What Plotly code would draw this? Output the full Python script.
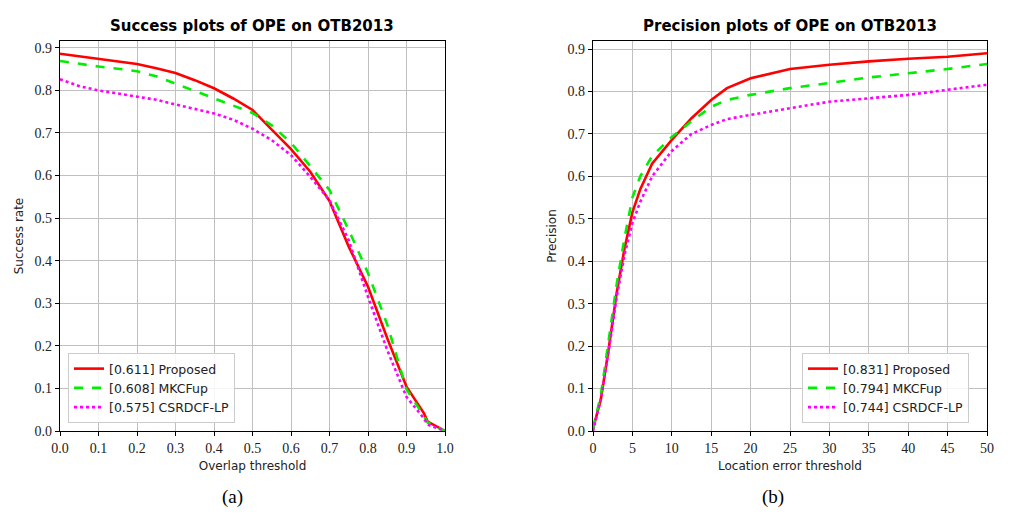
import plotly.graph_objects as go

# ---- Success plot data (overlap threshold) ----
succ_x = [0.0, 0.05, 0.1, 0.15, 0.2, 0.25, 0.3, 0.35, 0.4, 0.45, 0.5, 0.55, 0.6, 0.65,
          0.7, 0.75, 0.8, 0.85, 0.9, 0.945, 0.955, 1.0]
succ_proposed = [0.886, 0.880, 0.874, 0.868, 0.862, 0.852, 0.841, 0.824, 0.805, 0.781, 0.754,
                 0.708, 0.662, 0.609, 0.540, 0.433, 0.339, 0.218, 0.104, 0.042, 0.022, 0.0]
succ_mkcfup = [0.869, 0.862, 0.856, 0.851, 0.845, 0.833, 0.816, 0.799, 0.781, 0.765, 0.747,
               0.718, 0.677, 0.622, 0.566, 0.472, 0.371, 0.250, 0.098, 0.035, 0.020, 0.0]
succ_csrdcf = [0.826, 0.810, 0.800, 0.793, 0.786, 0.778, 0.767, 0.757, 0.746, 0.731, 0.710,
               0.683, 0.648, 0.597, 0.542, 0.448, 0.315, 0.190, 0.080, 0.030, 0.015, 0.0]

# ---- Precision plot data (location error threshold) ----
prec_x = [0, 1, 2, 3, 4, 5, 6, 7.5, 10, 12.5, 15, 17, 20, 25, 30, 35, 40, 45, 50]
prec_proposed = [0.005, 0.075, 0.195, 0.325, 0.430, 0.515, 0.570, 0.630, 0.686, 0.737, 0.780,
                 0.808, 0.831, 0.853, 0.863, 0.871, 0.877, 0.882, 0.890]
prec_mkcfup = [0.005, 0.085, 0.215, 0.345, 0.455, 0.550, 0.600, 0.648, 0.693, 0.730, 0.764,
               0.780, 0.792, 0.808, 0.820, 0.833, 0.843, 0.853, 0.865]
prec_csrdcf = [0.0, 0.075, 0.190, 0.315, 0.415, 0.490, 0.540, 0.600, 0.660, 0.700, 0.721,
               0.735, 0.745, 0.760, 0.776, 0.784, 0.792, 0.804, 0.816]

names_succ = ["[0.611] Proposed", "[0.608] MKCFup", "[0.575] CSRDCF-LP"]
names_prec = ["[0.831] Proposed", "[0.794] MKCFup", "[0.744] CSRDCF-LP"]
colors = ["#ff0000", "#00ee00", "#ff00ff"]
dashes = ["solid", "dash", "dot"]

succ_x_ticks = [round(i * 0.1, 1) for i in range(11)]
prec_x_ticks = list(range(0, 51, 5))
y_ticks = [round(i * 0.1, 1) for i in range(10)]

fig = go.Figure()
for ys, nm, c, d in zip([succ_proposed, succ_mkcfup, succ_csrdcf], names_succ, colors, dashes):
    fig.add_trace(go.Scatter(x=succ_x, y=ys, name=nm, mode="lines",
                             line=dict(color=c, dash=d, width=2.6),
                             xaxis="x", yaxis="y", legend="legend"))
for ys, nm, c, d in zip([prec_proposed, prec_mkcfup, prec_csrdcf], names_prec, colors, dashes):
    fig.add_trace(go.Scatter(x=prec_x, y=ys, name=nm, mode="lines",
                             line=dict(color=c, dash=d, width=2.6),
                             xaxis="x2", yaxis="y2", legend="legend2"))

OFF = 8  # page body margin
W, H = 1012 - OFF, 523 - OFF


def px(x):
    return (x - OFF) / W


def py(y):
    return 1 - (y - OFF) / H


yd = [py(431), py(41)]
serif = "Liberation Serif, DejaVu Serif, serif"
sans = "DejaVu Sans, Liberation Sans, sans-serif"
grid = "#c0c0c0"

axis_common = dict(showline=True, linecolor="black", linewidth=1.2, mirror=True,
                   ticks="outside", ticklen=4, tickcolor="black", automargin=False,
                   showgrid=True, gridcolor=grid, gridwidth=1, zeroline=False,
                   tickfont=dict(family=serif, size=14, color="#222"))

leg_common = dict(xanchor="left", yanchor="bottom",
                  bgcolor="rgba(255,255,255,0.85)", bordercolor="#cccccc", borderwidth=1,
                  font=dict(family=sans, size=12.5, color="#222"), tracegroupgap=0)

fig.update_layout(
    width=W, height=H, margin=dict(l=0, r=0, t=0, b=0, autoexpand=False),
    paper_bgcolor="white", plot_bgcolor="white",
    showlegend=True,
    xaxis=dict(domain=[px(60), px(445)], range=[0, 1], tickvals=succ_x_ticks,
               tickformat=".1f", anchor="y",
               title=dict(text="Overlap threshold", font=dict(family=sans, size=12, color="#222"), standoff=6),
               **axis_common),
    yaxis=dict(domain=yd, range=[0, 0.916], tickvals=y_ticks, tickformat=".1f", anchor="x",
               title=dict(text="Success rate", font=dict(family=sans, size=12, color="#222"), standoff=8),
               **axis_common),
    xaxis2=dict(domain=[px(593), px(987)], range=[0, 50], tickvals=prec_x_ticks, anchor="y2",
                title=dict(text="Location error threshold", font=dict(family=sans, size=12, color="#222"), standoff=6),
                **axis_common),
    yaxis2=dict(domain=yd, range=[0, 0.919], tickvals=y_ticks, tickformat=".1f", anchor="x2",
                title=dict(text="Precision", font=dict(family=sans, size=12, color="#222"), standoff=8),
                **axis_common),
    legend=dict(x=px(68), y=py(423), **leg_common),
    legend2=dict(x=px(802), y=py(423), **leg_common),
    annotations=[
        dict(text="<b>Success plots of OPE on OTB2013</b>", x=px(252), y=py(26),
             xanchor="center", yanchor="middle",
             xref="paper", yref="paper", showarrow=False,
             font=dict(family=sans, size=15, color="black")),
        dict(text="<b>Precision plots of OPE on OTB2013</b>", x=px(790), y=py(26),
             xanchor="center", yanchor="middle",
             xref="paper", yref="paper", showarrow=False,
             font=dict(family=sans, size=15, color="black")),
        dict(text="(a)", x=px(232), y=py(497), xanchor="center", yanchor="middle",
             xref="paper", yref="paper", showarrow=False,
             font=dict(family=serif, size=19, color="black")),
        dict(text="(b)", x=px(773), y=py(497), xanchor="center", yanchor="middle",
             xref="paper", yref="paper", showarrow=False,
             font=dict(family=serif, size=19, color="black")),
    ],
)

fig.write_html("out.html")
